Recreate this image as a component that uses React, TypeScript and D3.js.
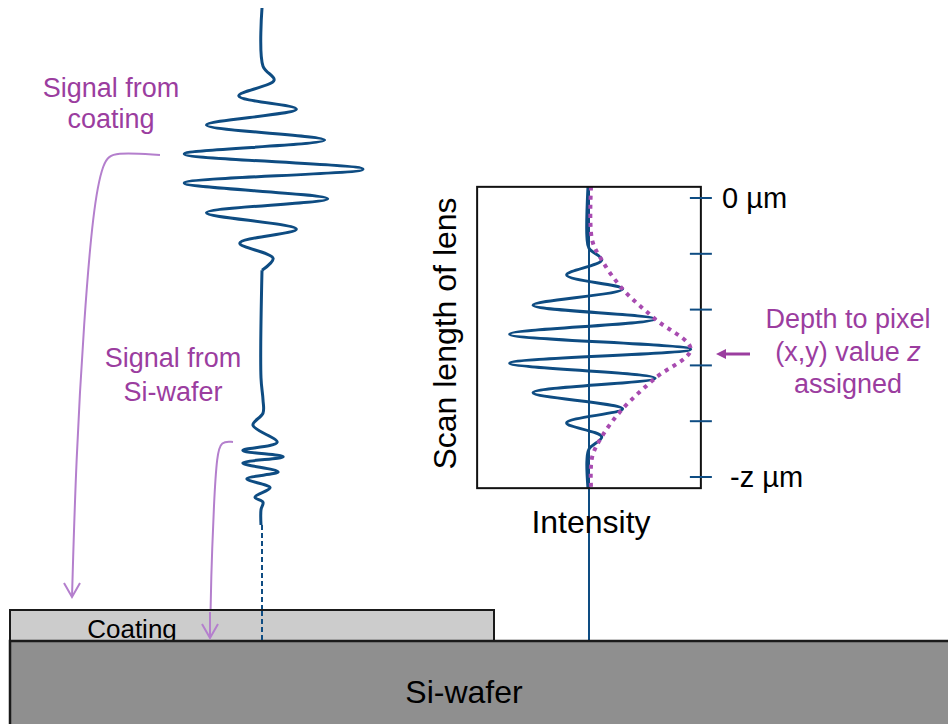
import * as d3 from "d3";

// left trace: echo from the coating (depth in scan units, signal normalised)
const coatingDepth = [0, 0.92, 1.14, 1.39, 1.6, 1.85, 2.09, 2.31, 2.55, 2.77, 3.02, 3.24, 3.5, 3.72, 3.96, 4.15];
const coatingSignal = [0, 0.01, 0.12, -0.23, 0.34, -0.55, 0.62, -0.77, 1.0, -0.77, 0.65, -0.55, 0.34, -0.22, 0.11, 0];

// left trace: weaker echo from the Si-wafer
const waferDepth = [4.15, 5.85, 6.2, 6.41, 6.6, 6.87, 7.0, 7.1, 7.2, 7.34, 7.45, 7.59, 7.74, 7.82, 7.94, 8.18];
const waferSignal = [0, -0.01, 0.01, 0.01, -0.09, 0.15, -0.19, 0.21, -0.19, 0.16, -0.15, 0.08, -0.07, 0.01, -0.01, -0.01];

// inset: intensity vs scan length of lens
const scanTicks = [0, 1, 2, 3, 4, 5];
const scanTickLabels = ["0 µm", "", "", "", "", "-z µm"];
const insetDepth = [-0.2, 0.7, 0.9, 1.11, 1.38, 1.63, 1.92, 2.17, 2.44, 2.71, 2.96, 3.23, 3.49, 3.78, 4.03, 4.28, 4.5, 4.7, 5.2];
const insetSignal = [-0.01, -0.02, 0, 0.125, -0.22, 0.33, -0.55, 0.65, -0.78, 1.0, -0.78, 0.65, -0.55, 0.33, -0.22, 0.125, 0, -0.02, -0.01];
const envelopeDepth = [-0.2, 0.75, 1.11, 1.63, 2.17, 2.71, 3.23, 3.78, 4.28, 4.65, 5.2];
const envelopeValue = [0.02, 0.03, 0.125, 0.33, 0.65, 1.0, 0.65, 0.33, 0.125, 0.03, 0.02];

const BLUE = "#0e4c82";
const MAGENTA = "#9b3d9f";
const LAVENDER = "#b47fcd";
const FONT = "'Liberation Sans', Arial, sans-serif";

const App = () => {
  const width = 948;
  const height = 724;

  // left trace scales
  const yLeft = d3.scaleLinear().domain([0, 10]).range([8, 640]);
  const xLeft = d3.scaleLinear().domain([-1, 1]).range([161, 363]);

  // inset scales
  const yIn = d3.scaleLinear().domain([0, 5]).range([198, 477]);
  const xIn = d3.scaleLinear().domain([-1, 1]).range([487.3, 690.7]);

  const waveLeft = d3
    .line<number>()
    .x((d) => xLeft(d))
    .curve(d3.curveCatmullRom);

  const coatingPath = waveLeft.y((_, i) => yLeft(coatingDepth[i]))(coatingSignal);
  const waferPath = waveLeft.y((_, i) => yLeft(waferDepth[i]))(waferSignal);

  const insetPath = d3
    .line<number>()
    .x((d) => xIn(d))
    .y((_, i) => yIn(insetDepth[i]))
    .curve(d3.curveCatmullRom)(insetSignal);

  const envelopePath = d3
    .line<number>()
    .x((d) => xIn(d))
    .y((_, i) => yIn(envelopeDepth[i]))
    .curve(d3.curveCatmullRom)(envelopeValue);

  // curved pointer arrows
  const arrowLine = d3.line().curve(d3.curveBasis);
  const arrow1: [number, number][] = [[160, 155], [114, 152], [103, 160], [93, 210], [84, 320], [76, 460], [72, 597]];
  const arrow2: [number, number][] = [[233, 442], [221, 441], [217, 455], [214, 500], [211, 580], [210, 638]];

  const boxLeft = xIn(-1.1);
  const boxRight = xIn(1.1);
  const boxTop = yIn(-0.2);
  const boxBottom = yIn(5.2);

  return (
    <svg
      width={width}
      height={height}
      style={{ position: "absolute", left: 0, top: 0, background: "#fff" }}
      fontFamily={FONT}
    >
      {/* left trace */}
      <path d={coatingPath ?? ""} fill="none" stroke={BLUE} strokeWidth={3} />
      <path d={waferPath ?? ""} fill="none" stroke={BLUE} strokeWidth={3} />
      <line
        x1={xLeft(0)}
        x2={xLeft(0)}
        y1={yLeft(8.18)}
        y2={yLeft(10)}
        stroke={BLUE}
        strokeWidth={2}
        strokeDasharray="5 3"
      />

      {/* annotations on left */}
      <g fill={MAGENTA} fontSize={27} textAnchor="middle">
        <text x={111} y={97}>Signal from</text>
        <text x={111} y={128}>coating</text>
        <text x={173} y={367}>Signal from</text>
        <text x={173} y={401}>Si-wafer</text>
      </g>
      <g fill="none" stroke={LAVENDER} strokeWidth={2}>
        <path d={arrowLine(arrow1) ?? ""} />
        <polyline points="64,583 72,597 80,583" />
        <path d={arrowLine(arrow2) ?? ""} />
      </g>

      {/* inset */}
      <line x1={xIn(0)} x2={xIn(0)} y1={boxTop} y2={641} stroke={BLUE} strokeWidth={2} />
      <path d={insetPath ?? ""} fill="none" stroke={BLUE} strokeWidth={3} />
      <path d={envelopePath ?? ""} fill="none" stroke="#a84bb0" strokeWidth={4} strokeDasharray="4 5" />
      <rect
        x={boxLeft}
        y={boxTop}
        width={boxRight - boxLeft}
        height={boxBottom - boxTop}
        fill="none"
        stroke="#111"
        strokeWidth={2}
      />
      {scanTicks.map((t, i) => (
        <g key={t}>
          <line x1={boxRight - 11} x2={boxRight + 11} y1={yIn(t)} y2={yIn(t)} stroke={BLUE} strokeWidth={2} />
          {scanTickLabels[i] && (
            <text x={i === 0 ? 722 : 730} y={yIn(t) + 10} fontSize={29} fill="#000">
              {scanTickLabels[i]}
            </text>
          )}
        </g>
      ))}
      <text x={591} y={533} fontSize={32} textAnchor="middle" fill="#000">
        Intensity
      </text>
      <text
        transform={`translate(456,${(boxTop + boxBottom) / 2 - 4}) rotate(-90)`}
        fontSize={32}
        textAnchor="middle"
        fill="#000"
      >
        Scan length of lens
      </text>

      {/* depth pointer */}
      <line x1={750} x2={724} y1={354} y2={354} stroke={MAGENTA} strokeWidth={3} />
      <polygon points="716,354 726,349 726,359" fill={MAGENTA} />
      <g fill={MAGENTA} fontSize={27} textAnchor="middle">
        <text x={848} y={328}>Depth to pixel</text>
        <text x={848} y={361}>
          (x,y) value <tspan fontStyle="italic">z</tspan>
        </text>
        <text x={848} y={393}>assigned</text>
      </g>

      {/* sample */}
      <rect x={10} y={610} width={484} height={31} fill="#cccccc" stroke="#1a1a1a" strokeWidth={2} />
      <text x={132} y={638} fontSize={26} textAnchor="middle" fill="#000">
        Coating
      </text>
      <rect x={10} y={641} width={950} height={90} fill="#8f8f8f" stroke="#1a1a1a" strokeWidth={2.5} />
      <text x={464} y={703} fontSize={32} textAnchor="middle" fill="#000">
        Si-wafer
      </text>

      {/* arrows and dashed line lie over the coating */}
      <line x1={xLeft(0)} x2={xLeft(0)} y1={611} y2={640} stroke={BLUE} strokeWidth={2} strokeDasharray="5 3" />
      <g fill="none" stroke={LAVENDER} strokeWidth={2}>
        <line x1={210} x2={210} y1={612} y2={638} />
        <polyline points="202,624 210,638 218,624" />
      </g>
    </svg>
  );
};

export default App;
